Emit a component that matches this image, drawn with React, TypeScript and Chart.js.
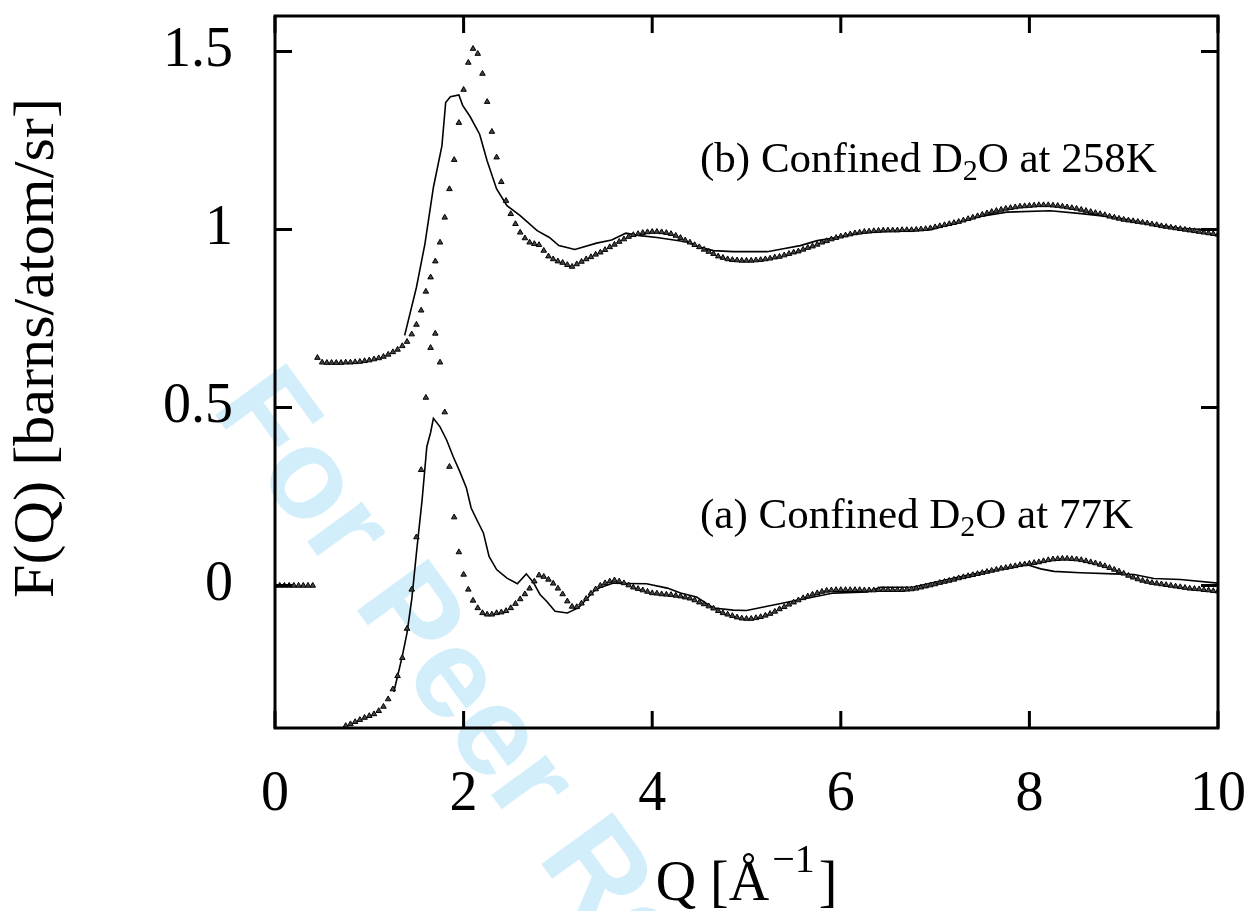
import { useEffect, useRef } from "react";
import { Chart, registerables } from "chart.js";

Chart.register(...registerables);

// ---------- axis ticks ----------
const xTickValues = [0, 2, 4, 6, 8, 10];
const yTickValues = [0, 0.5, 1, 1.5];

// ---------- measurement grid (Q in Å^-1, step 0.05) ----------
const qGrid = Array.from({ length: 201 }, (_, i) => i / 20);

// (b) Confined D2O at 258K — measured points (triangles), on qGrid
const triangles258K = [
  null, null, null, null, null, null, null, null, null, 0.640,
  0.627, 0.626, 0.626, 0.626, 0.626, 0.627, 0.627, 0.628, 0.629, 0.631,
  0.633, 0.636, 0.639, 0.643, 0.649, 0.656, 0.663, 0.673, 0.685, 0.706,
  0.733, 0.773, 0.826, 0.866, 0.911, 0.964, 1.034, 1.114, 1.196, 1.300,
  1.393, 1.469, 1.508, 1.494, 1.438, 1.359, 1.275, 1.203, 1.134, 1.081,
  1.044, 1.016, 0.992, 0.976, 0.964, 0.960, 0.957, 0.941, 0.925, 0.917,
  0.911, 0.907, 0.901, 0.896, 0.903, 0.910, 0.917, 0.923, 0.930, 0.936,
  0.943, 0.951, 0.958, 0.966, 0.973, 0.980, 0.985, 0.988, 0.991, 0.993,
  0.994, 0.994, 0.993, 0.991, 0.988, 0.983, 0.977, 0.970, 0.964, 0.957,
  0.951, 0.944, 0.938, 0.932, 0.925, 0.921, 0.917, 0.915, 0.914, 0.913,
  0.913, 0.913, 0.914, 0.915, 0.917, 0.919, 0.922, 0.924, 0.928, 0.932,
  0.936, 0.939, 0.944, 0.949, 0.953, 0.958, 0.964, 0.968, 0.973, 0.977,
  0.981, 0.984, 0.987, 0.990, 0.992, 0.994, 0.995, 0.996, 0.997, 0.998,
  0.998, 0.998, 0.998, 0.999, 0.999, 0.999, 1.000, 1.001, 1.002, 1.004,
  1.007, 1.010, 1.013, 1.016, 1.019, 1.022, 1.026, 1.030, 1.034, 1.038,
  1.042, 1.046, 1.050, 1.053, 1.056, 1.059, 1.061, 1.063, 1.065, 1.066,
  1.067, 1.068, 1.069, 1.069, 1.069, 1.068, 1.067, 1.065, 1.063, 1.061,
  1.059, 1.056, 1.053, 1.050, 1.047, 1.044, 1.041, 1.037, 1.034, 1.031,
  1.028, 1.026, 1.024, 1.022, 1.020, 1.018, 1.015, 1.013, 1.010, 1.008,
  1.006, 1.004, 1.002, 1.000, 0.998, 0.996, 0.994, 0.992, 0.990, 0.988,
  0.986,
];

// (a) Confined D2O at 77K — measured points (triangles), on qGrid
const triangles77K = [
  0, 0, 0, 0, 0, 0, 0, 0, 0, null,
  null, null, null, null, null, -0.394, -0.389, -0.383, -0.377, -0.371,
  -0.366, -0.361, -0.352, -0.340, -0.319, -0.291, -0.254, -0.203, -0.121, -0.011,
  0.136, 0.325, 0.528, 0.668, 0.708, 0.627, 0.487, 0.334, 0.192, 0.094,
  0.031, -0.011, -0.042, -0.063, -0.077, -0.081, -0.081, -0.077, -0.075, -0.071,
  -0.063, -0.051, -0.038, -0.024, -0.008, 0.012, 0.029, 0.025, 0.017, 0.006,
  -0.008, -0.024, -0.044, -0.059, -0.060, -0.050, -0.037, -0.022, -0.010, 0.000,
  0.007, 0.012, 0.015, 0.012, 0.007, 0.001, -0.005, -0.009, -0.013, -0.017,
  -0.021, -0.022, -0.024, -0.025, -0.026, -0.028, -0.030, -0.033, -0.036, -0.041,
  -0.047, -0.052, -0.058, -0.064, -0.071, -0.077, -0.081, -0.085, -0.089, -0.092,
  -0.093, -0.093, -0.091, -0.088, -0.084, -0.079, -0.073, -0.066, -0.060, -0.053,
  -0.047, -0.041, -0.035, -0.030, -0.025, -0.021, -0.017, -0.014, -0.013, -0.012,
  -0.012, -0.012, -0.012, -0.012, -0.012, -0.013, -0.013, -0.013, -0.012, -0.012,
  -0.012, -0.012, -0.012, -0.012, -0.011, -0.010, -0.008, -0.005, -0.002, 0.001,
  0.004, 0.008, 0.011, 0.014, 0.017, 0.021, 0.024, 0.027, 0.030, 0.033,
  0.036, 0.039, 0.042, 0.045, 0.048, 0.050, 0.053, 0.055, 0.058, 0.060,
  0.062, 0.064, 0.066, 0.069, 0.072, 0.074, 0.075, 0.076, 0.076, 0.075,
  0.074, 0.072, 0.069, 0.066, 0.063, 0.059, 0.055, 0.050, 0.045, 0.040,
  0.034, 0.028, 0.023, 0.018, 0.014, 0.011, 0.008, 0.006, 0.004, 0.002,
  0.000, -0.002, -0.004, -0.006, -0.008, -0.009, -0.010, -0.012, -0.013, -0.015,
  -0.016,
];

// (b) 258K — simulation curve (solid line)
const line258KQ = [
  1.375, 1.5, 1.59, 1.68, 1.77, 1.81, 1.86, 1.95, 1.99, 2.07, 2.17, 2.25, 2.35,
  2.46, 2.6, 2.78, 2.91, 3.01, 3.18, 3.41, 3.57, 3.72, 3.87, 4.05, 4.23, 4.37,
  4.51, 4.65, 4.86, 5.22, 5.39, 5.57, 5.75, 5.92, 6.1, 6.28, 6.63, 6.95, 7.48,
  7.76, 8.22, 8.55, 8.89, 9.26, 9.6, 10.0,
];
const line258KF = [
  0.703, 0.838, 0.96, 1.119, 1.235, 1.357, 1.373, 1.378, 1.349, 1.317, 1.268, 1.193, 1.114,
  1.067, 1.039, 0.997, 0.978, 0.955, 0.944, 0.962, 0.971, 0.99, 0.983, 0.978, 0.971, 0.965,
  0.95, 0.941, 0.938, 0.938, 0.946, 0.955, 0.969, 0.976, 0.986, 0.992, 0.997, 1.0, 1.037,
  1.049, 1.053, 1.045, 1.035, 1.016, 1.004, 0.998,
];

// (a) 77K — simulation curve (solid line)
const line77KQ = [
  1.26, 1.3, 1.35, 1.4, 1.45, 1.5, 1.56, 1.61, 1.65, 1.68, 1.75, 1.82, 1.89, 1.96,
  2.03, 2.08, 2.14, 2.21, 2.27, 2.35, 2.46, 2.57, 2.665, 2.74, 2.81, 2.88, 2.97,
  3.1, 3.22, 3.38, 3.45, 3.59, 3.73, 3.94, 4.16, 4.3, 4.47, 4.65, 4.86, 5.0, 5.22,
  5.43, 5.57, 5.75, 5.92, 6.28, 6.42, 6.77, 7.13, 7.48, 7.97, 8.12, 8.26, 8.54,
  8.89, 9.11, 9.32, 9.6, 10.0,
];
const line77KF = [
  -0.299, -0.254, -0.198, -0.133, -0.039, 0.092, 0.241, 0.39, 0.43, 0.47, 0.446, 0.409, 0.362, 0.32,
  0.274, 0.218, 0.185, 0.148, 0.082, 0.045, 0.021, 0.005, 0.033, 0.009, -0.025, -0.044, -0.072,
  -0.077, -0.062, -0.016, -0.005, 0.007, 0.006, 0.005, -0.007, -0.021, -0.032, -0.063, -0.069, -0.07, -0.058,
  -0.047, -0.039, -0.03, -0.021, -0.018, -0.005, -0.004, 0.017, 0.037, 0.059, 0.047, 0.04, 0.036,
  0.033, 0.031, 0.02, 0.017, 0.007,
];

// ---------- text ----------
const xTitleMain = "Q [Å";
const xTitleSup = "−1";
const xTitleEnd = "]";
const yTitle = "F(Q) [barns/atom/sr]";
const labelB = ["(b) Confined D", "2", "O at 258K"];
const labelA = ["(a) Confined D", "2", "O at 77K"];
const watermarkText = "For Peer Review";

const SERIF = "'Liberation Serif', 'Times New Roman', Times, serif";

function pairs(qs: number[], fs: (number | null)[]) {
  const out: { x: number; y: number }[] = [];
  qs.forEach((q, i) => {
    const f = fs[i];
    if (f !== null && f !== undefined) out.push({ x: q, y: f });
  });
  return out;
}

function drawSubLabel(ctx: CanvasRenderingContext2D, parts: string[], x: number, y: number) {
  ctx.textAlign = "left";
  ctx.textBaseline = "alphabetic";
  ctx.font = `43px ${SERIF}`;
  ctx.fillText(parts[0], x, y);
  let cx = x + ctx.measureText(parts[0]).width;
  ctx.font = `30px ${SERIF}`;
  ctx.fillText(parts[1], cx, y + 8);
  cx += ctx.measureText(parts[1]).width;
  ctx.font = `43px ${SERIF}`;
  ctx.fillText(parts[2], cx, y);
}

const decorPlugin = {
  id: "decor",
  beforeDraw(chart: any) {
    const ctx: CanvasRenderingContext2D = chart.ctx;
    ctx.save();
    ctx.translate(210, 408);
    ctx.rotate((54 * Math.PI) / 180);
    ctx.font = "bold 128px 'Liberation Sans', Arial, sans-serif";
    ctx.fillStyle = "#d3eefb";
    ctx.textAlign = "left";
    ctx.textBaseline = "alphabetic";
    ctx.fillText(watermarkText, 0, 0);
    ctx.restore();
  },
  afterDraw(chart: any) {
    const ctx: CanvasRenderingContext2D = chart.ctx;
    const a = chart.chartArea;
    const xs = chart.scales.x;
    const ys = chart.scales.y;
    ctx.save();
    ctx.strokeStyle = "#000";
    ctx.lineWidth = 3;
    ctx.strokeRect(a.left, a.top, a.right - a.left, a.bottom - a.top);
    const TL = 17;
    ctx.beginPath();
    xTickValues.forEach((v) => {
      const px = xs.getPixelForValue(v);
      ctx.moveTo(px, a.bottom);
      ctx.lineTo(px, a.bottom - TL);
      ctx.moveTo(px, a.top);
      ctx.lineTo(px, a.top + TL);
    });
    yTickValues.forEach((v) => {
      const py = ys.getPixelForValue(v);
      ctx.moveTo(a.left, py);
      ctx.lineTo(a.left + TL, py);
      ctx.moveTo(a.right, py);
      ctx.lineTo(a.right - TL, py);
    });
    ctx.stroke();

    ctx.fillStyle = "#000";
    // y title (slightly stretched along its length, as in the reference)
    ctx.save();
    ctx.translate(53, 348);
    ctx.rotate(-Math.PI / 2);
    ctx.scale(1.075, 1);
    ctx.font = `56px ${SERIF}`;
    ctx.textAlign = "center";
    ctx.textBaseline = "alphabetic";
    ctx.fillText(yTitle, 0, 0);
    ctx.restore();

    // x title with superscript
    ctx.textAlign = "left";
    ctx.textBaseline = "alphabetic";
    ctx.font = `56px ${SERIF}`;
    const w1 = ctx.measureText(xTitleMain).width;
    ctx.font = `40px ${SERIF}`;
    const w2 = ctx.measureText(xTitleSup).width;
    ctx.font = `56px ${SERIF}`;
    const w3 = ctx.measureText(xTitleEnd).width;
    const total = w1 + 3 + w2 + 4 + w3;
    let x0 = (a.left + a.right) / 2 - total / 2;
    const base = 900;
    ctx.fillText(xTitleMain, x0, base);
    x0 += w1 + 3;
    ctx.font = `40px ${SERIF}`;
    ctx.fillText(xTitleSup, x0, base - 28);
    x0 += w2 + 4;
    ctx.font = `56px ${SERIF}`;
    ctx.fillText(xTitleEnd, x0, base);

    // curve labels
    drawSubLabel(ctx, labelB, 700, 172);
    drawSubLabel(ctx, labelA, 700, 528);
    ctx.restore();
  },
};

export default function App() {
  const canvasRef = useRef<HTMLCanvasElement | null>(null);

  useEffect(() => {
    const canvas = canvasRef.current;
    if (!canvas) return;
    const triStyle = {
      showLine: false,
      pointStyle: "triangle",
      pointRadius: 3.2,
      pointBackgroundColor: "#444",
      pointBorderColor: "#000",
      pointBorderWidth: 1,
    };
    const lineStyle = {
      showLine: true,
      pointRadius: 0,
      borderColor: "#000",
      borderWidth: 1.6,
      tension: 0,
    };
    const chart = new Chart(canvas, {
      type: "scatter",
      data: {
        datasets: [
          { label: "258K data", data: pairs(qGrid, triangles258K), ...triStyle } as any,
          { label: "77K data", data: pairs(qGrid, triangles77K), ...triStyle } as any,
          { label: "258K curve", data: pairs(line258KQ, line258KF), ...lineStyle } as any,
          { label: "77K curve", data: pairs(line77KQ, line77KF), ...lineStyle } as any,
        ],
      },
      options: {
        animation: false,
        responsive: false,
        devicePixelRatio: 1,
        layout: { padding: { top: 16, right: 41, left: 0, bottom: 0 } },
        plugins: { legend: { display: false }, tooltip: { enabled: false } },
        scales: {
          x: {
            type: "linear",
            min: 0,
            max: 10,
            grid: { display: false },
            border: { display: false },
            afterBuildTicks: (s: any) => {
              s.ticks = xTickValues.map((v) => ({ value: v }));
            },
            afterFit: (s: any) => {
              s.height = 183;
              s.paddingLeft = 0;
              s.paddingRight = 0;
            },
            ticks: {
              color: "#000",
              padding: 26,
              maxRotation: 0,
              font: { family: SERIF, size: 56 },
              callback: (v: any) => String(v),
            },
          },
          y: {
            type: "linear",
            min: -0.4,
            max: 1.6,
            grid: { display: false },
            border: { display: false },
            afterBuildTicks: (s: any) => {
              s.ticks = yTickValues.map((v) => ({ value: v }));
            },
            afterFit: (s: any) => {
              s.width = 275;
              s.paddingTop = 0;
              s.paddingBottom = 0;
            },
            ticks: {
              color: "#000",
              padding: 34,
              font: { family: SERIF, size: 56 },
              callback: (v: any) => String(v),
            },
          },
        },
      },
      plugins: [decorPlugin],
    });
    return () => chart.destroy();
  }, []);

  return (
    <div style={{ position: "absolute", left: 0, top: 0, width: 1259, height: 911, background: "#fff" }}>
      <canvas ref={canvasRef} width={1259} height={911} style={{ width: 1259, height: 911, display: "block" }} />
    </div>
  );
}
